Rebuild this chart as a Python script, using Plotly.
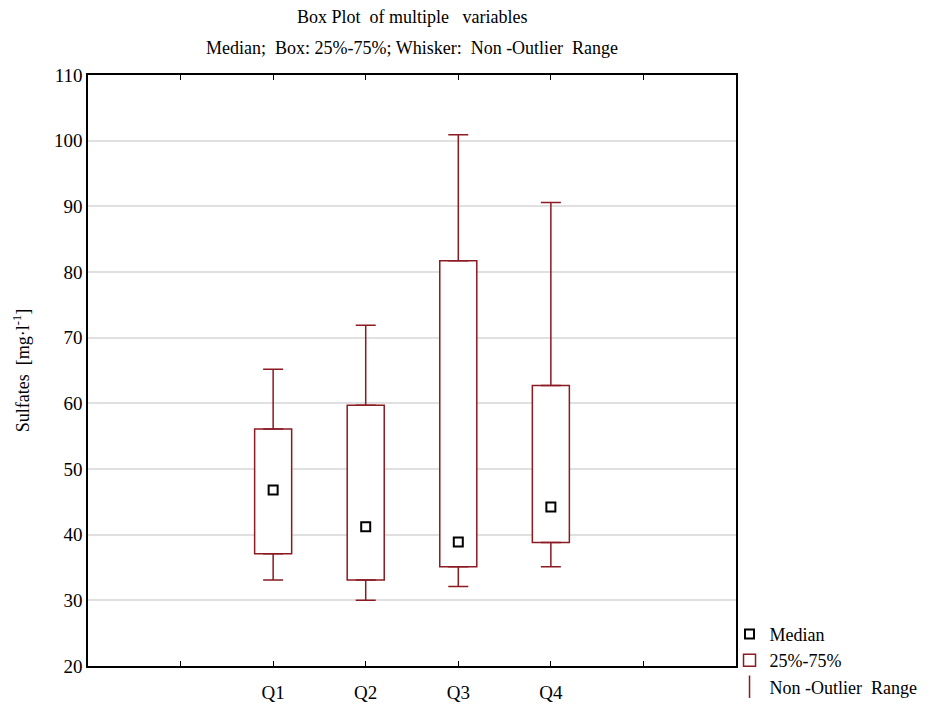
import plotly.graph_objects as go

categories = ["Q1", "Q2", "Q3", "Q4"]
positions = [2, 3, 4, 5]
medians = [46.8, 41.2, 38.9, 44.2]
q1 = [37.1, 33.1, 35.1, 38.8]
q3 = [56.1, 59.7, 81.7, 62.7]
lower = [33.1, 30.0, 32.1, 35.1]
upper = [65.2, 71.9, 100.9, 90.6]
y_ticks = [20, 30, 40, 50, 60, 70, 80, 90, 100, 110]

RED = "#8b1a22"
FONT = "Liberation Serif"

fig = go.Figure()

# boxes (25%-75%)
fig.add_trace(go.Bar(
    x=positions, base=q1, y=[b - a for a, b in zip(q1, q3)],
    width=0.4, marker=dict(color="white", line=dict(color=RED, width=1.5)),
    name="25%-75%", showlegend=True, hoverinfo="skip", legendrank=2,
))

# upper whiskers
fig.add_trace(go.Scatter(
    x=positions, y=q3, mode="markers",
    marker=dict(size=0.1, color="rgba(0,0,0,0)"),
    error_y=dict(type="data", symmetric=False,
                 array=[u - b for u, b in zip(upper, q3)],
                 arrayminus=[0] * 4, color=RED, thickness=1.5, width=10),
    showlegend=False, hoverinfo="skip",
))
# lower whiskers
fig.add_trace(go.Scatter(
    x=positions, y=q1, mode="markers",
    marker=dict(size=0.1, color="rgba(0,0,0,0)"),
    error_y=dict(type="data", symmetric=False,
                 array=[0] * 4,
                 arrayminus=[a - l for a, l in zip(q1, lower)],
                 color=RED, thickness=1.5, width=10),
    showlegend=False, hoverinfo="skip",
))

# medians
fig.add_trace(go.Scatter(
    x=positions, y=medians, mode="markers",
    marker=dict(symbol="square", size=9, color="white",
                line=dict(color="black", width=2)),
    name="Median", legendrank=1,
))

# legend-only entry for whisker range
fig.add_trace(go.Scatter(
    x=[None], y=[None], mode="markers",
    marker=dict(symbol="line-ns", size=20, color=RED,
                line=dict(color=RED, width=1.5)),
    name="Non -Outlier  Range", legendrank=3,
))

fig.update_layout(
    width=937, height=704,
    margin=dict(l=88, r=201, t=75, b=38, autoexpand=False),
    paper_bgcolor="white", plot_bgcolor="white",
    font=dict(family=FONT, size=19, color="black"),
    barmode="overlay",
    legend=dict(x=0.99, xanchor="left", y=0.085, yanchor="top",
                font=dict(size=18),
                bgcolor="rgba(0,0,0,0)", tracegroupgap=0, itemwidth=30),
    xaxis=dict(range=[0, 7], tickvals=positions, ticktext=categories,
               ticks="inside", ticklen=5, tickwidth=1, tickcolor="black",
               ticklabelstandoff=8,
               minor=dict(ticks="inside", ticklen=5, tickwidth=1, tickcolor="black",
                          tick0=0, dtick=1, showgrid=False),
               showline=True, linecolor="black", linewidth=1.5, mirror="allticks",
               showgrid=False, zeroline=False),
    yaxis=dict(range=[20, 110], tickvals=y_ticks,
               showline=True, linecolor="black", linewidth=1.5, mirror=True,
               showgrid=True, gridcolor="#e0e0e0", gridwidth=1.5, zeroline=False,
               ticks="",
               title=dict(text="Sulfates  [mg·l<sup>-1</sup>]", standoff=20,
                          font=dict(size=18))),
    annotations=[
        dict(text="Box Plot  of multiple   variables", xref="paper", yref="paper",
             x=0.5, y=1.0, yshift=70, showarrow=False, xanchor="center",
             font=dict(size=18)),
        dict(text="Median;  Box: 25%-75%; Whisker:  Non -Outlier  Range", xref="paper",
             yref="paper", x=0.5, y=1.0, yshift=39, showarrow=False, xanchor="center",
             font=dict(size=18)),
    ],
)

fig.write_html("out.html")
